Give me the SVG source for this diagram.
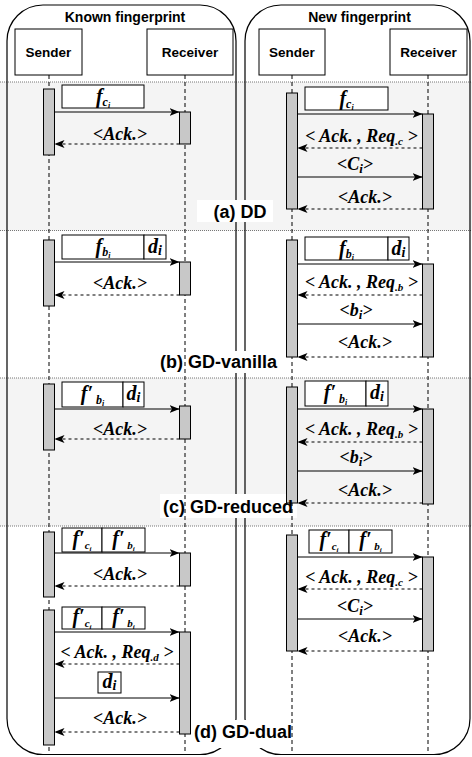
<svg xmlns="http://www.w3.org/2000/svg" width="472" height="757" viewBox="0 0 472 757">
<style>
.band{fill:#f4f4f4}
.sep{stroke:#777;stroke-width:1;stroke-dasharray:1 1;fill:none}
.frame{fill:none;stroke:#000;stroke-width:1.2}
.box{fill:#fff;stroke:#000;stroke-width:1}
.bar{fill:#c8c8c8;stroke:#000;stroke-width:1}
.life{stroke:#000;stroke-width:1;stroke-dasharray:4 3;fill:none}
.msg{stroke:#000;stroke-width:1;fill:none;marker-end:url(#ah)}
.ret{stroke:#000;stroke-width:1;stroke-dasharray:3 3;fill:none;marker-end:url(#ah)}
.t{font-family:"Liberation Serif","Times New Roman",serif;font-weight:bold;font-style:italic;font-size:18px}
.f{font-family:"Liberation Serif","Times New Roman",serif;font-weight:bold;font-style:italic;font-size:20px}
.h{font-family:"Liberation Sans",Arial,sans-serif;font-weight:bold}
.lbl{fill:#fff;stroke:none}
</style>
<defs>
<marker id="ah" viewBox="0 0 10 8" refX="10" refY="4" markerWidth="10" markerHeight="8" markerUnits="userSpaceOnUse" orient="auto">
<path d="M0,0 L10,4 L0,8 L2.5,4 Z" fill="#000"/>
</marker>
</defs>
<rect width="472" height="757" fill="#fff"/>
<g id="bands">
<rect class="band" x="0" y="82" width="472" height="148.5"/>
<rect class="band" x="0" y="378" width="472" height="148"/>
<line class="sep" x1="0" y1="82" x2="472" y2="82"/>
<line class="sep" x1="0" y1="230.5" x2="472" y2="230.5"/>
<line class="sep" x1="0" y1="378" x2="472" y2="378"/>
<line class="sep" x1="0" y1="526" x2="472" y2="526"/>
</g>
<g id="frame-known"><rect class="frame" x="7" y="5" width="229" height="749.5" rx="36" ry="36"/>
<text class="h" x="125" y="22" font-size="14" text-anchor="middle">Known fingerprint</text></g>
<g id="frame-new"><rect class="frame" x="245" y="5" width="225" height="749.5" rx="36" ry="36"/>
<text class="h" x="359.5" y="22" font-size="14" text-anchor="middle">New fingerprint</text></g>
<g id="labelbg">
<rect class="lbl" x="197" y="200" width="76" height="22"/>
<rect class="lbl" x="153" y="351" width="138" height="22"/>
<rect class="lbl" x="160" y="494" width="137" height="24"/>
<rect class="lbl" x="189" y="720" width="107" height="28"/>
</g>
<g id="connectors">
<line class="life" x1="49" y1="75" x2="49" y2="755"/>
<line class="life" x1="185" y1="75" x2="185" y2="755"/>
<line class="life" x1="292" y1="75" x2="292" y2="755"/>
<line class="life" x1="428" y1="75" x2="428" y2="755"/>
</g>
<g id="actors">
<g id="k-sender"><rect class="box" x="15" y="29" width="67" height="46"/><text class="h" x="48.5" y="57" font-size="13.5" text-anchor="middle">Sender</text></g>
<g id="k-receiver"><rect class="box" x="147" y="29" width="86" height="46"/><text class="h" x="190" y="57" font-size="13.5" text-anchor="middle">Receiver</text></g>
<g id="n-sender"><rect class="box" x="259" y="29" width="66" height="46"/><text class="h" x="292" y="57" font-size="13.5" text-anchor="middle">Sender</text></g>
<g id="n-receiver"><rect class="box" x="390" y="29" width="77" height="46"/><text class="h" x="428.5" y="57" font-size="13.5" text-anchor="middle">Receiver</text></g>
</g>
<g id="bars">
<rect id="a-ks" class="bar" x="43.5" y="89" width="11" height="66"/>
<rect id="a-kr" class="bar" x="179.5" y="112" width="11" height="32"/>
<rect id="a-ns" class="bar" x="286.5" y="93" width="11" height="116"/>
<rect id="a-nr" class="bar" x="422.5" y="114" width="11" height="95"/>
<rect id="b-ks" class="bar" x="43.5" y="240" width="11" height="66"/>
<rect id="b-kr" class="bar" x="179.5" y="262" width="11" height="33"/>
<rect id="b-ns" class="bar" x="286.5" y="240" width="11" height="117"/>
<rect id="b-nr" class="bar" x="422.5" y="264" width="11" height="93"/>
<rect id="c-ks" class="bar" x="43.5" y="384" width="11" height="66"/>
<rect id="c-kr" class="bar" x="179.5" y="406" width="11" height="33"/>
<rect id="c-ns" class="bar" x="286.5" y="387" width="11" height="116"/>
<rect id="c-nr" class="bar" x="422.5" y="409" width="11" height="95"/>
<rect id="d-ks1" class="bar" x="43.5" y="532" width="11" height="65"/>
<rect id="d-kr1" class="bar" x="179.5" y="553" width="11" height="33"/>
<rect id="d-ks2" class="bar" x="43.5" y="610" width="11" height="135"/>
<rect id="d-kr2" class="bar" x="179.5" y="632" width="11" height="102"/>
<rect id="d-ns" class="bar" x="286.5" y="535" width="11" height="116"/>
<rect id="d-nr" class="bar" x="422.5" y="557" width="11" height="94"/>
</g>
<g id="messages">
<line class="msg" x1="54.5" y1="112" x2="179.5" y2="112"/>
<line class="ret" x1="179.5" y1="144" x2="54.5" y2="144"/>
<line class="msg" x1="297.5" y1="114" x2="422.5" y2="114"/>
<line class="ret" x1="422.5" y1="148" x2="297.5" y2="148"/>
<line class="msg" x1="297.5" y1="177" x2="422.5" y2="177"/>
<line class="ret" x1="422.5" y1="209" x2="297.5" y2="209"/>
<line class="msg" x1="54.5" y1="262" x2="179.5" y2="262"/>
<line class="ret" x1="179.5" y1="295" x2="54.5" y2="295"/>
<line class="msg" x1="297.5" y1="264" x2="422.5" y2="264"/>
<line class="ret" x1="422.5" y1="295" x2="297.5" y2="295"/>
<line class="msg" x1="297.5" y1="324" x2="422.5" y2="324"/>
<line class="ret" x1="422.5" y1="357" x2="297.5" y2="357"/>
<line class="msg" x1="54.5" y1="409" x2="179.5" y2="409"/>
<line class="ret" x1="179.5" y1="439" x2="54.5" y2="439"/>
<line class="msg" x1="297.5" y1="409" x2="422.5" y2="409"/>
<line class="ret" x1="422.5" y1="442" x2="297.5" y2="442"/>
<line class="msg" x1="297.5" y1="471" x2="422.5" y2="471"/>
<line class="ret" x1="422.5" y1="503" x2="297.5" y2="503"/>
<line class="msg" x1="54.5" y1="553" x2="179.5" y2="553"/>
<line class="ret" x1="179.5" y1="586" x2="54.5" y2="586"/>
<line class="msg" x1="54.5" y1="632" x2="179.5" y2="632"/>
<line class="ret" x1="179.5" y1="664" x2="54.5" y2="664"/>
<line class="msg" x1="54.5" y1="698" x2="179.5" y2="698"/>
<line class="ret" x1="179.5" y1="732" x2="54.5" y2="732"/>
<line class="msg" x1="297.5" y1="557" x2="422.5" y2="557"/>
<line class="ret" x1="422.5" y1="589" x2="297.5" y2="589"/>
<line class="msg" x1="297.5" y1="619" x2="422.5" y2="619"/>
<line class="ret" x1="422.5" y1="651" x2="297.5" y2="651"/>
</g>
<g id="payloads">
<g id="a-k-fc"><rect class="box" x="62" y="85" width="82" height="23"/><text class="f" x="103" y="103" text-anchor="middle">f<tspan font-size="12" dy="3">c</tspan><tspan font-size="8" dy="2">i</tspan></text></g>
<g id="a-n-fc"><rect class="box" x="305" y="87" width="83" height="23"/><text class="f" x="346.5" y="105" text-anchor="middle">f<tspan font-size="12" dy="3">c</tspan><tspan font-size="8" dy="2">i</tspan></text></g>
<g id="b-k-fb"><rect class="box" x="62" y="235" width="82" height="24"/><rect class="box" x="144" y="235" width="22" height="24"/>
<text class="f" x="103" y="253" text-anchor="middle">f<tspan font-size="12" dy="3">b</tspan><tspan font-size="8" dy="2">i</tspan></text>
<text class="f" x="155" y="253" text-anchor="middle">d<tspan font-size="14" dy="2">i</tspan></text></g>
<g id="b-n-fb"><rect class="box" x="305" y="237" width="83" height="23"/><rect class="box" x="388" y="237" width="21" height="23"/>
<text class="f" x="346.5" y="255" text-anchor="middle">f<tspan font-size="12" dy="3">b</tspan><tspan font-size="8" dy="2">i</tspan></text>
<text class="f" x="398.5" y="255" text-anchor="middle">d<tspan font-size="14" dy="2">i</tspan></text></g>
<g id="c-k-fb"><rect class="box" x="62" y="382" width="61" height="25"/><rect class="box" x="123" y="382" width="21" height="25"/>
<text class="f" x="92.5" y="400" text-anchor="middle">f′<tspan font-size="12" dy="4"> b</tspan><tspan font-size="8" dy="2">i</tspan></text>
<text class="f" x="133.5" y="400" text-anchor="middle">d<tspan font-size="14" dy="2">i</tspan></text></g>
<g id="c-n-fb"><rect class="box" x="305" y="381" width="61" height="25"/><rect class="box" x="366" y="381" width="22" height="25"/>
<text class="f" x="335.5" y="399" text-anchor="middle">f′<tspan font-size="12" dy="4"> b</tspan><tspan font-size="8" dy="2">i</tspan></text>
<text class="f" x="377" y="399" text-anchor="middle">d<tspan font-size="14" dy="2">i</tspan></text></g>
<g id="d-k-f1"><rect class="box" x="62" y="528" width="40" height="24"/><rect class="box" x="102" y="528" width="43" height="24"/>
<text class="f" x="82" y="545" font-size="18" text-anchor="middle">f′<tspan font-size="11" dy="4">c</tspan><tspan font-size="7" dy="2">i</tspan></text>
<text class="f" x="123.5" y="545" font-size="18" text-anchor="middle">f′<tspan font-size="11" dy="4"> b</tspan><tspan font-size="7" dy="2">i</tspan></text></g>
<g id="d-k-f2"><rect class="box" x="62" y="607" width="40" height="22"/><rect class="box" x="102" y="607" width="43" height="22"/>
<text class="f" x="82" y="623" font-size="18" text-anchor="middle">f′<tspan font-size="11" dy="4">c</tspan><tspan font-size="7" dy="2">i</tspan></text>
<text class="f" x="123.5" y="623" font-size="18" text-anchor="middle">f′<tspan font-size="11" dy="4"> b</tspan><tspan font-size="7" dy="2">i</tspan></text></g>
<g id="d-k-d"><rect class="box" x="98" y="672" width="23" height="21"/><text class="f" x="109.5" y="688" text-anchor="middle">d<tspan font-size="14" dy="2">i</tspan></text></g>
<g id="d-n-f"><rect class="box" x="309" y="530" width="40" height="23"/><rect class="box" x="349" y="530" width="43" height="23"/>
<text class="f" x="329" y="546" font-size="18" text-anchor="middle">f′<tspan font-size="11" dy="4">c</tspan><tspan font-size="7" dy="2">i</tspan></text>
<text class="f" x="370.5" y="546" font-size="18" text-anchor="middle">f′<tspan font-size="11" dy="4"> b</tspan><tspan font-size="7" dy="2">i</tspan></text></g>
</g>
<g id="msglabels">
<text class="t" x="120" y="140" text-anchor="middle">&lt;Ack.&gt;</text>
<text class="t" x="361.5" y="142" text-anchor="middle">&lt; Ack. , Req<tspan font-size="11" dy="3">.c</tspan><tspan dy="-3"> &gt;</tspan></text>
<text class="t" x="355" y="170" text-anchor="middle">&lt;C<tspan font-size="13" dy="3">i</tspan><tspan dy="-3">&gt;</tspan></text>
<text class="t" x="365" y="203" text-anchor="middle">&lt;Ack.&gt;</text>
<text class="t" x="120" y="289" text-anchor="middle">&lt;Ack.&gt;</text>
<text class="t" x="361.5" y="288" text-anchor="middle">&lt; Ack. , Req<tspan font-size="11" dy="3">.b</tspan><tspan dy="-3"> &gt;</tspan></text>
<text class="t" x="356" y="316" text-anchor="middle">&lt;b<tspan font-size="13" dy="3">i</tspan><tspan dy="-3">&gt;</tspan></text>
<text class="t" x="365" y="348" text-anchor="middle">&lt;Ack.&gt;</text>
<text class="t" x="120" y="435" text-anchor="middle">&lt;Ack.&gt;</text>
<text class="t" x="361.5" y="435" text-anchor="middle">&lt; Ack. , Req<tspan font-size="11" dy="3">.b</tspan><tspan dy="-3"> &gt;</tspan></text>
<text class="t" x="356" y="463" text-anchor="middle">&lt;b<tspan font-size="13" dy="3">i</tspan><tspan dy="-3">&gt;</tspan></text>
<text class="t" x="365" y="496" text-anchor="middle">&lt;Ack.&gt;</text>
<text class="t" x="120" y="580" text-anchor="middle">&lt;Ack.&gt;</text>
<text class="t" x="117" y="658" text-anchor="middle">&lt; Ack. , Req<tspan font-size="11" dy="3">.d</tspan><tspan dy="-3"> &gt;</tspan></text>
<text class="t" x="120" y="724" text-anchor="middle">&lt;Ack.&gt;</text>
<text class="t" x="361.5" y="583" text-anchor="middle">&lt; Ack. , Req<tspan font-size="11" dy="3">.c</tspan><tspan dy="-3"> &gt;</tspan></text>
<text class="t" x="355" y="612" text-anchor="middle">&lt;C<tspan font-size="13" dy="3">i</tspan><tspan dy="-3">&gt;</tspan></text>
<text class="t" x="365" y="642" text-anchor="middle">&lt;Ack.&gt;</text>
</g>
<g id="sectionlabels" class="h" font-size="18">
<text x="240" y="218" text-anchor="middle">(a) DD</text>
<text x="218.5" y="368" text-anchor="middle">(b) GD-vanilla</text>
<text x="228" y="513" text-anchor="middle">(c) GD-reduced</text>
<text x="243" y="738" text-anchor="middle">(d) GD-dual</text>
</g>
</svg>
